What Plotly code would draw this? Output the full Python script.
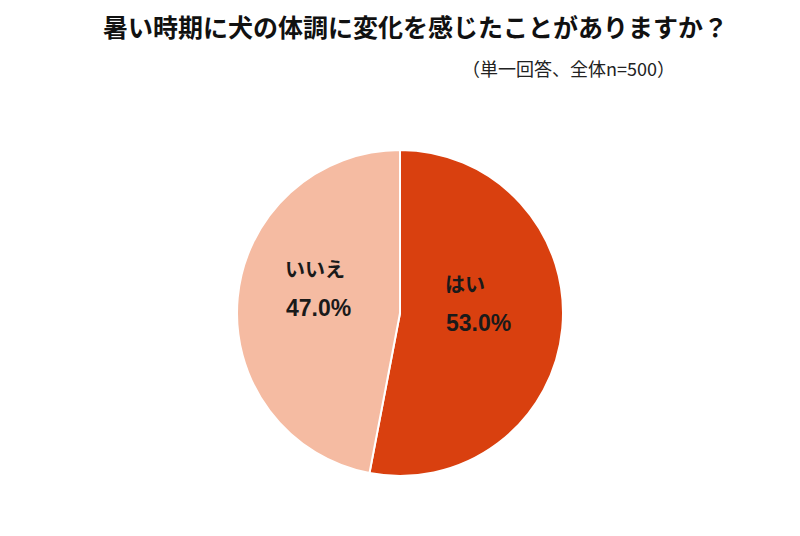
import plotly.graph_objects as go

# データ
labels = ["はい", "いいえ"]
values = [53.0, 47.0]
colors = ["#D9400F", "#F5BBA2"]

title_text = "暑い時期に犬の体調に変化を感じたことがありますか？"
note_text = "（単一回答、全体n=500）"

# ラベルの位置（paper座標）
label_pos = {"はい": ((0.571, 0.483), (0.5875, 0.412)),
             "いいえ": ((0.384, 0.511), (0.3875, 0.440))}

total = sum(values)

fig = go.Figure(go.Pie(
    labels=labels,
    values=values,
    sort=False,
    direction="clockwise",
    rotation=0,
    marker=dict(colors=colors, line=dict(color="white", width=2)),
    textinfo="none",
    hoverinfo="label+percent",
    domain=dict(x=[0.28625, 0.69375], y=[0.1269, 0.7351]),
    showlegend=False,
))

annotations = [
    dict(text="<b>" + title_text + "</b>", x=0.509, y=0.966, xanchor="center", yanchor="middle",
         showarrow=False, font=dict(size=25, color="#111111", family="Noto Sans CJK JP")),
    dict(text=note_text, x=0.70, y=0.888, xanchor="center", yanchor="middle",
         showarrow=False, font=dict(size=18, color="#222222", family="Noto Sans CJK JP")),
]

lab_font = dict(size=20, color="#1a1a1a", family="Liberation Sans, Arial, Noto Sans CJK JP")
pct_font = dict(lab_font, size=23)
for lab, val in zip(labels, values):
    (lx, ly), (px_, py_) = label_pos[lab]
    annotations.append(dict(text="<b>" + lab + "</b>", x=lx, y=ly, xanchor="center", yanchor="middle",
                            showarrow=False, font=lab_font))
    annotations.append(dict(text="<b>%.1f%%</b>" % (val / total * 100), x=px_, y=py_,
                            xanchor="center", yanchor="middle", showarrow=False, font=pct_font))

for a in annotations:
    a["xref"] = "paper"
    a["yref"] = "paper"

fig.update_layout(
    width=800, height=536,
    margin=dict(l=0, r=0, t=0, b=0),
    paper_bgcolor="white",
    font=dict(family="Noto Sans CJK JP"),
    annotations=annotations,
)

fig.write_html("out.html")
